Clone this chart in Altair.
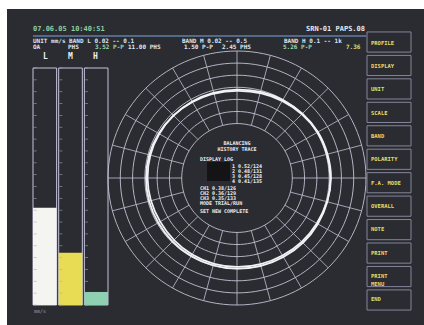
import altair as alt
import pandas as pd
import numpy as np

# ---------------- data ----------------
BAR_CH = ["L", "M", "H"]
BAR_VAL = [4.1, 2.2, 0.55]          # mm/s, full scale 10
BAR_COL = ["#f4f4f0", "#e8dc55", "#90d0b2"]
BAR_TICKS = [i * 0.5 for i in range(21)]

TRACE_ANG = [0, 30, 60, 90, 120, 150, 180, 210, 240, 270, 300, 330]
TRACE_A = [7.20, 7.35, 7.55, 7.60, 7.60, 7.55, 7.50, 7.45, 7.40, 7.40, 7.35, 7.25]
TRACE_B = [7.30, 7.45, 7.60, 7.65, 7.50, 7.40, 7.35, 7.30, 7.22, 7.28, 7.30, 7.30]

GRID_R = [4.5, 5.5, 6.5, 7.5, 8.5, 9.5, 10.5]
SPOKE_ANG = list(range(0, 360, 15))

MENU = ["PROFILE", "DISPLAY", "UNIT", "SCALE", "BAND", "POLARITY",
        "F.A. MODE", "OVERALL", "NOTE", "PRINT", "PRINT\nMENU", "END"]

HEAD_DATE = "07.06.05 10:40:51"
HEAD_ID = "SRN-01  PAPS.08"
HEAD_ROW2 = ["UNIT mm/s BAND L 0.02 -- 0.1", "BAND M 0.02 -- 0.5", "BAND H 0.1 -- 1k"]
HEAD_ROW3 = ["OA", "PHS", "3.52 P-P", "11.00 PHS", "1.50 P-P", "2.45 PHS", "5.26 P-P", "7.36"]
CENTER_TXT = ["BALANCING", "HISTORY TRACE", "DISPLAY LOG",
              "1 0.52/124", "2 0.48/131", "3 0.45/128", "4 0.41/135",
              "CH1  0.38/126", "CH2  0.36/129", "CH3  0.35/133", "MODE  TRIAL/RUN",
              "SET NEW  COMPLETE"]

FONT = "DejaVu Sans Mono"
one = pd.DataFrame({"k": [0]})

# ---------------- background ----------------
bg = alt.Chart(one).mark_rect(color="#2a2c31").encode(
    x=alt.value(7), x2=alt.value(424), y=alt.value(9), y2=alt.value(325))

# ---------------- polar plot ----------------
CX, CY = 237, 178
xs = alt.Scale(domain=[-10.5, 10.5], range=[CX - 129, CX + 129], nice=False, zero=False)
ys = alt.Scale(domain=[-10.5, 10.5], range=[CY + 127, CY - 127], nice=False, zero=False)
GRID_COL = "#c2c2d4"

gp = [(r, a) for r in GRID_R for a in range(0, 361, 3)]
grid_df = pd.DataFrame(gp, columns=["r", "a"])
grid = alt.Chart(grid_df).transform_calculate(
    px="datum.r*sin(datum.a*PI/180)", py="datum.r*cos(datum.a*PI/180)"
).mark_line(stroke=GRID_COL, strokeWidth=0.9).encode(
    x=alt.X("px:Q", scale=xs, axis=None), y=alt.Y("py:Q", scale=ys, axis=None),
    detail="r:N", order="a:Q")

spk_df = pd.DataFrame({"a": SPOKE_ANG})
spokes = alt.Chart(spk_df).transform_calculate(
    x0=f"{GRID_R[0]}*sin(datum.a*PI/180)", y0=f"{GRID_R[0]}*cos(datum.a*PI/180)",
    x1=f"{GRID_R[-1]}*sin(datum.a*PI/180)", y1=f"{GRID_R[-1]}*cos(datum.a*PI/180)"
).mark_rule(stroke=GRID_COL, strokeWidth=0.8).encode(
    x=alt.X("x0:Q", scale=xs, axis=None), y=alt.Y("y0:Q", scale=ys, axis=None),
    x2="x1:Q", y2="y1:Q")

tr_df = pd.concat([
    pd.DataFrame({"trace": "A", "ang": TRACE_ANG, "r": TRACE_A}),
    pd.DataFrame({"trace": "B", "ang": TRACE_ANG, "r": TRACE_B}),
])
trace = alt.Chart(tr_df).transform_calculate(
    px="datum.r*sin(datum.ang*PI/180)", py="datum.r*cos(datum.ang*PI/180)"
).mark_line(color="#f2f2f6", strokeWidth=1.8, interpolate="cardinal-closed").encode(
    x=alt.X("px:Q", scale=xs, axis=None), y=alt.Y("py:Q", scale=ys, axis=None),
    detail="trace:N", order="ang:Q")

# ---------------- bar meters ----------------
bx = alt.Scale(domain=BAR_CH, range=[33, 108], paddingInner=0.08, paddingOuter=0)
by = alt.Scale(domain=[0, 10], range=[305, 68], nice=False, zero=False)
bar_df = pd.DataFrame({"ch": BAR_CH, "v": BAR_VAL, "col": BAR_COL, "full": [10] * 3})

bars = alt.Chart(bar_df).mark_bar().encode(
    x=alt.X("ch:N", scale=bx, axis=None), y=alt.Y("v:Q", scale=by, axis=None),
    y2=alt.datum(0), color=alt.Color("col:N", scale=None))
frames = alt.Chart(bar_df).mark_rect(fillOpacity=0, stroke="#c4c4dc", strokeWidth=1).encode(
    x=alt.X("ch:N", scale=bx, axis=None), y=alt.Y("full:Q", scale=by, axis=None),
    y2=alt.datum(0))
tk_df = pd.DataFrame([(c, t) for c in BAR_CH for t in BAR_TICKS], columns=["ch", "t"])
ticks = alt.Chart(tk_df).mark_tick(orient="horizontal", size=3, thickness=0.8,
                                   xOffset=-9.6).encode(
    x=alt.X("ch:N", scale=bx, axis=None),
    y=alt.Y("t:Q", scale=by, axis=None), color=alt.value("#a8a8c4"))
blabels = alt.Chart(bar_df).mark_text(font=FONT, fontWeight="bold", fontSize=8).encode(
    x=alt.X("ch:N", scale=bx, axis=None), y=alt.value(57), text="ch:N",
    color=alt.value("#eeeef4"))
unit_lbl = alt.Chart(one).mark_text(font=FONT, fontSize=5, color="#9a9aa8", align="left",
                                    text="mm/s").encode(x=alt.value(34), y=alt.value(311))

# ---------------- menu ----------------
my = alt.Scale(domain=MENU, range=[31, 311], paddingInner=0.14, paddingOuter=0.04)
menu_df = pd.DataFrame({"label": MENU})
menu_box = alt.Chart(menu_df).mark_rect(fillOpacity=0, stroke="#85859a", strokeWidth=1).encode(
    y=alt.Y("label:N", scale=my, axis=None), x=alt.value(367), x2=alt.value(411))
menu_txt = alt.Chart(menu_df).mark_text(font=FONT, fontWeight="bold", fontSize=5.5,
                                        align="left", baseline="middle",
                                        lineBreak="\n").encode(
    y=alt.Y("label:N", scale=my, axis=None), x=alt.value(371), text="label:N",
    color=alt.value("#e4dc6a"))

# ---------------- header ----------------
def txt(s, x, y, color="#e8e8f0", size=6, align="left", weight="bold"):
    return alt.Chart(one).mark_text(font=FONT, fontWeight=weight, fontSize=size,
                                    align=align, baseline="middle", text=s).encode(
        x=alt.value(x), y=alt.value(y), color=alt.value(color))

hdr = [
    txt(HEAD_DATE, 33, 29, color="#8fd0a4", size=7),
    txt(HEAD_ID, 365, 29, color="#e6e6ee", size=7, align="right"),
    alt.Chart(one).mark_rule(color="#7fa6de", strokeWidth=1.2).encode(
        x=alt.value(33), x2=alt.value(366), y=alt.value(36)),
    txt(HEAD_ROW2[0], 33, 41, color="#dde4f4"),
    txt(HEAD_ROW2[1], 182, 41, color="#dde4f4"),
    txt(HEAD_ROW2[2], 284, 41, color="#dde4f4"),
]
row3_x = [33, 68, 95, 128, 184, 222, 283, 346]
row3_c = ["#e6e6ee", "#e6e6ee", "#9fdcae", "#e6e6ee", "#e6e6ee", "#e6e6ee", "#9fdcae", "#d8e070"]
for s, x, c in zip(HEAD_ROW3, row3_x, row3_c):
    hdr.append(txt(s, x, 47, color=c))

# ---------------- centre text ----------------
cblock = alt.Chart(one).mark_rect(color="#141416").encode(
    x=alt.value(207), x2=alt.value(230), y=alt.value(162), y2=alt.value(181))
ctr_pos = [(237, 143, "center"), (237, 149, "center"), (200, 159, "left"),
           (232, 166, "left"), (232, 171, "left"), (232, 176, "left"), (232, 181, "left"),
           (200, 188, "left"), (200, 193, "left"), (200, 198, "left"), (200, 203, "left"),
           (200, 211, "left")]
ctr = [txt(s, x, y, color="#ececf2", size=5, align=a)
       for s, (x, y, a) in zip(CENTER_TXT, ctr_pos)]

chart = alt.layer(
    bg, grid, spokes, trace, frames, bars, ticks, blabels, unit_lbl,
    menu_box, menu_txt, *hdr, cblock, *ctr
).resolve_scale(x="independent", y="independent").properties(
    width=424, height=325, padding=0, autosize="none", background="white"
).configure_view(stroke=None)

chart.save("out.html", embed_options={"renderer": "svg", "actions": False})
